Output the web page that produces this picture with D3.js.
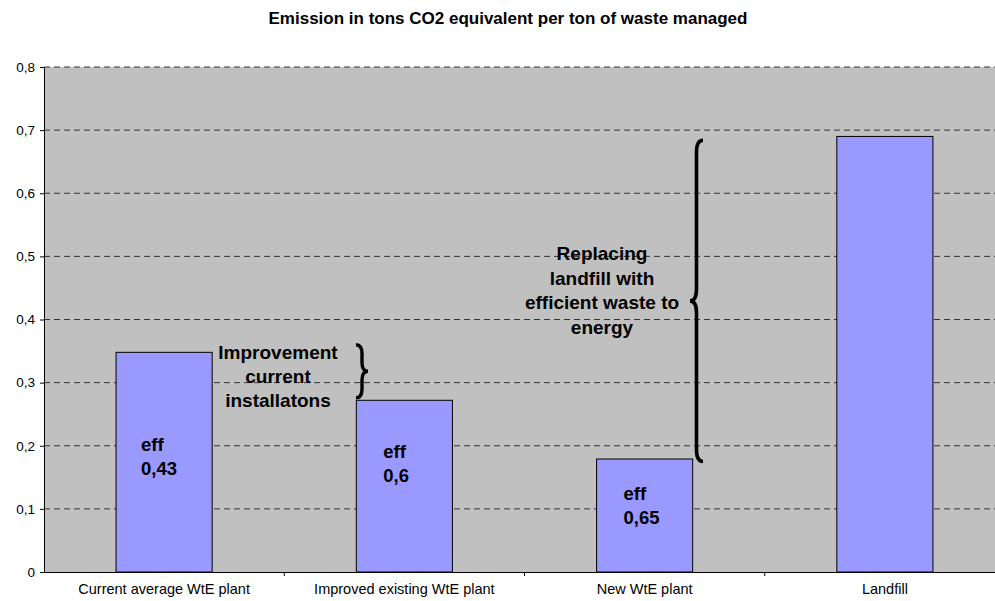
<!DOCTYPE html>
<html>
<head>
<meta charset="utf-8">
<script src="https://cdn.jsdelivr.net/npm/d3@7"></script>
<style>
  body { margin: 0; background: #fff; }
  text { font-family: "Liberation Sans", Arial, sans-serif; }
</style>
</head>
<body>
<svg id="chart" width="995" height="601"></svg>
<script>
// DATA
const categories = ['Current average WtE plant', 'Improved existing WtE plant', 'New WtE plant', 'Landfill']
const emissions  = [0.348, 0.272, 0.179, 0.690]
const effLabels  = [['eff', '0,43'], ['eff', '0,6'], ['eff', '0,65'], null]
const yTicks     = [0, 0.1, 0.2, 0.3, 0.4, 0.5, 0.6, 0.7, 0.8]
const tickLabels = ['0', '0,1', '0,2', '0,3', '0,4', '0,5', '0,6', '0,7', '0,8']

const svg = d3.select('#chart')
const margin = { top: 67, left: 44, bottom: 29 },
      plotRight = 1005,
      plotBottom = 601 - margin.bottom

// Scales
const x = d3.scaleBand().domain(categories).range([margin.left, plotRight]).paddingInner(0.6).paddingOuter(0.3)
const xStep = d3.scaleBand().domain(categories).range([margin.left, plotRight]).padding(0)
const y = d3.scaleLinear().domain([0, 0.8]).range([plotBottom, margin.top])

// Title
svg.append('text')
    .attr('x', 508).attr('y', 24)
    .attr('text-anchor', 'middle')
    .attr('font-size', 17).attr('font-weight', 'bold')
    .text('Emission in tons CO2 equivalent per ton of waste managed')

// Plot background
svg.append('rect')
    .attr('x', margin.left).attr('y', margin.top)
    .attr('width', plotRight - margin.left).attr('height', plotBottom - margin.top)
    .attr('fill', '#c0c0c0')

// Gridlines
svg.append('g').selectAll('line')
    .data(yTicks.filter(d => d > 0))
    .join('line')
    .attr('x1', margin.left).attr('x2', plotRight)
    .attr('y1', d => y(d)).attr('y2', d => y(d))
    .attr('stroke', '#333').attr('stroke-width', 1)
    .attr('stroke-dasharray', '6,4')

// Y axis
const yAxis = svg.append('g')
    .attr('transform', `translate(${margin.left},0)`)
    .call(d3.axisLeft(y).tickValues(yTicks).tickFormat((d, i) => tickLabels[i]).tickSize(4).tickSizeOuter(0))
yAxis.select('.domain').attr('stroke', '#000')
yAxis.selectAll('text').attr('font-size', 13.5).attr('fill', '#000').attr('dx', -2)
    .style('font-family', '"Liberation Sans", Arial, sans-serif')

// X axis
const xAxis = svg.append('g')
    .attr('transform', `translate(0,${plotBottom})`)
    .call(d3.axisBottom(x).tickSize(0).tickSizeOuter(0))
xAxis.select('.domain').attr('stroke', '#000')
xAxis.selectAll('text').attr('font-size', 14.5).attr('fill', '#000').attr('dy', '1.3em')
    .style('font-family', '"Liberation Sans", Arial, sans-serif')
// Category separator ticks
svg.append('g').selectAll('line')
    .data(categories.slice(1))
    .join('line')
    .attr('x1', d => xStep(d)).attr('x2', d => xStep(d))
    .attr('y1', plotBottom).attr('y2', plotBottom + 4)
    .attr('stroke', '#000')

// Bars
svg.append('g').selectAll('rect')
    .data(categories)
    .join('rect')
    .attr('x', d => x(d))
    .attr('y', (d, i) => y(emissions[i]))
    .attr('width', x.bandwidth())
    .attr('height', (d, i) => plotBottom - y(emissions[i]))
    .attr('fill', '#9999ff')
    .attr('stroke', '#000').attr('stroke-width', 1)

// Efficiency labels inside bars
const effPos = [[0.26, 445], [0.28, 452], [0.28, 494]]
categories.forEach((c, i) => {
    if (!effLabels[i]) return
    const t = svg.append('text')
        .attr('x', x(c) + x.bandwidth() * effPos[i][0])
        .attr('y', effPos[i][1] + 6)
        .attr('font-size', 18.5).attr('font-weight', 'bold')
    effLabels[i].forEach((line, j) => {
        t.append('tspan').attr('x', x(c) + x.bandwidth() * effPos[i][0]).attr('dy', j ? 24 : 0).text(line)
    })
})

// Curly brace helper: ends at xb, tip at xb + dir*w
function brace(xb, yt, yb, dir, w) {
    const m = xb + dir * w * 0.5, tip = xb + dir * w, ym = (yt + yb) / 2,
          k = Math.min(12, (yb - yt) / 6)
    return `M${xb},${yt} Q${m},${yt} ${m},${yt + k} L${m},${ym - k} Q${m},${ym} ${tip},${ym}` +
           ` Q${m},${ym} ${m},${ym + k} L${m},${yb - k} Q${m},${yb} ${xb},${yb}`
}

// Brace 1: improvement of current installations
svg.append('path')
    .attr('d', brace(356, y(emissions[0] + 0.012), y(emissions[1] + 0.004), 1, 12))
    .attr('fill', 'none').attr('stroke', '#000').attr('stroke-width', 3.4)

// Brace 2: replacing landfill
svg.append('path')
    .attr('d', brace(703, y(emissions[3] - 0.006), y(emissions[2] - 0.004), -1, 13))
    .attr('fill', 'none').attr('stroke', '#000').attr('stroke-width', 3.6)

// Annotation texts
function multiline(lines, cx, y0, lh) {
    const t = svg.append('text')
        .attr('x', cx).attr('y', y0)
        .attr('text-anchor', 'middle')
        .attr('font-size', 19).attr('font-weight', 'bold')
    lines.forEach((line, j) => t.append('tspan').attr('x', cx).attr('dy', j ? lh : 0).text(line))
}
multiline(['Improvement', 'current', 'installatons'], 278, 359, 24)
multiline(['Replacing', 'landfill with', 'efficient waste to', 'energy'], 602, 260, 24.5)
</script>
</body>
</html>
